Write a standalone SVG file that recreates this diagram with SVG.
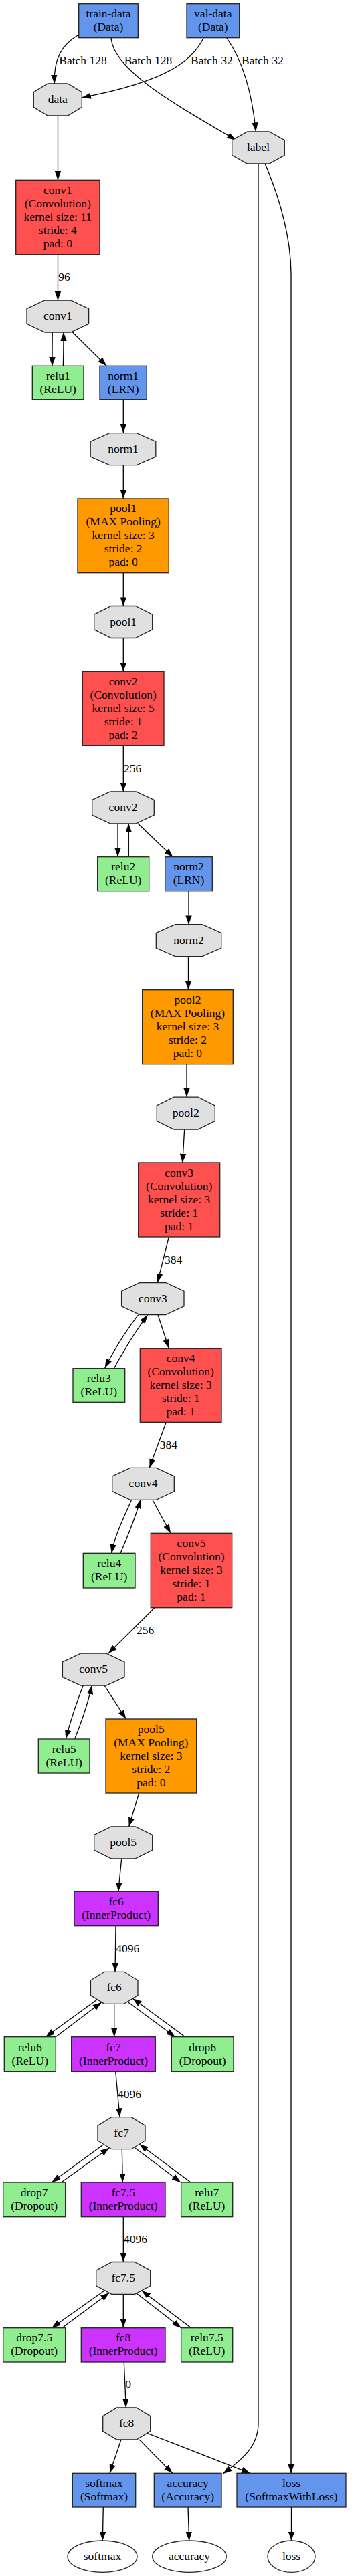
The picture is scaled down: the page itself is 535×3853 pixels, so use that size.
<svg xmlns="http://www.w3.org/2000/svg" width="535" height="3853" viewBox="0 0 535 3853">
<style>
text{font-family:"Liberation Serif","Times New Roman",serif;font-size:17.5px;fill:#000;text-anchor:middle}
text.el{text-anchor:start}
.b{stroke:#222;stroke-width:1.3}
.blue{fill:#6495ED}.red{fill:#FF5050}.orange{fill:#FF9900}.purple{fill:#CC33FF}.green{fill:#90EE90}.blob{fill:#E0E0E0}.out{fill:#fff}
#edges path{fill:none;stroke:#000;stroke-width:1.3;marker-end:url(#ah)}
</style>
<defs>
<marker id="ah" viewBox="0 0 13.3 9.4" refX="13.3" refY="4.7" markerWidth="13.3" markerHeight="9.4" markerUnits="userSpaceOnUse" orient="auto">
<path d="M0,0 L13.3,4.7 L0,9.4 z" fill="#000"/>
</marker>
</defs>
<rect width="535" height="3853" fill="#fff"/>
<g id="edges">
<path d="M117.7,52 C92,67 80,88 81.3,125"/>
<path d="M166,57 C170,105 260,155 352.3,209.3"/>
<path d="M304,57.3 C290,85 260,120 122.7,145.7"/>
<path d="M339,57 C355,80 375,120 382.3,196.7"/>
<path d="M86.5,173.3 L86.5,269.3"/>
<path d="M386,245 L386,3625 C386,3660 360,3680 333.3,3700"/>
<path d="M396,245 C420,300 435,360 435,410 L435,3699.3"/>
<path d="M86.5,380.7 L86.5,449"/>
<path d="M78.3,496.7 C78,515 78,530 78,547.3"/>
<path d="M94.3,547.3 C95,530 95,515 95,496.7"/>
<path d="M108.3,496.7 L159.3,547.3"/>
<path d="M184.3,597.7 L184.3,647.3"/>
<path d="M184.3,696 L184.3,746"/>
<path d="M184.3,856.7 L184.3,906.7"/>
<path d="M184.3,954.3 L184.3,1004.3"/>
<path d="M184.3,1115.3 L184.3,1184"/>
<path d="M176,1231.7 L176,1281.7"/>
<path d="M192.3,1281.7 L192.3,1231.7"/>
<path d="M206,1231.7 L258.3,1281.7"/>
<path d="M282,1332.7 L282,1382.7"/>
<path d="M281.5,1430.7 L281.5,1480.7"/>
<path d="M279,1591.7 L279,1641"/>
<path d="M275.7,1689.3 L272.7,1739"/>
<path d="M252.3,1850 L235.3,1918.3"/>
<path d="M206.7,1966.7 C185,1995 170,2020 156.7,2046"/>
<path d="M170.7,2046 C185,2020 200,1995 220.7,1966.7"/>
<path d="M236,1966.7 L252.3,2016.7"/>
<path d="M248.3,2127.3 L223.3,2195.3"/>
<path d="M196.7,2243 C185,2270 172,2295 166.7,2323.3"/>
<path d="M180,2323.3 C190,2300 202,2270 210,2243"/>
<path d="M227.7,2243 L255,2293.3"/>
<path d="M231,2404.7 L161.7,2473.3"/>
<path d="M124.3,2521 C115,2545 105,2575 98.3,2600.7"/>
<path d="M111.7,2600.7 C122,2575 132,2545 137.3,2521"/>
<path d="M156,2521 L188.3,2571"/>
<path d="M207.7,2682 L192.7,2731.7"/>
<path d="M181.7,2780 L176.7,2829.3"/>
<path d="M173,2880.7 L172,2949.3"/>
<path d="M145,2991 L68.3,3046.7"/>
<path d="M83.3,3046.7 L151.7,2995"/>
<path d="M170.7,2997.3 L170.7,3046.7"/>
<path d="M191.7,2995 L261.7,3046.7"/>
<path d="M276.7,3046.7 L198.3,2989.3"/>
<path d="M172.7,3098.3 L179,3166.7"/>
<path d="M154,3208.3 L77.3,3264"/>
<path d="M91.7,3264 L163.3,3212.7"/>
<path d="M182.3,3214.7 L183.3,3264"/>
<path d="M201.7,3212.7 L270,3264"/>
<path d="M285,3264 L208.3,3207.3"/>
<path d="M184.3,3315.7 L184.3,3383.3"/>
<path d="M155,3426.7 L77.3,3481.7"/>
<path d="M92.7,3481.7 L163.3,3429.3"/>
<path d="M184.3,3431.7 L184.3,3481.7"/>
<path d="M204,3430 L270.7,3481.7"/>
<path d="M285.7,3481.7 L211.7,3426"/>
<path d="M185.3,3533 L188.3,3601"/>
<path d="M181,3649 L164,3699.3"/>
<path d="M208.3,3649 L257.7,3699.3"/>
<path d="M220,3639.3 L374,3699.3"/>
<path d="M154.3,3750 L153.3,3800"/>
<path d="M281,3750 L282.7,3800"/>
<path d="M435.5,3750 L435.5,3800"/>
<text class="el" x="88.3" y="96">Batch 128</text>
<text class="el" x="185.7" y="96">Batch 128</text>
<text class="el" x="285" y="96">Batch 32</text>
<text class="el" x="361" y="96">Batch 32</text>
<text class="el" x="87.3" y="420">96</text>
<text class="el" x="185" y="1155">256</text>
<text class="el" x="246" y="1890">384</text>
<text class="el" x="238.7" y="2166.7">384</text>
<text class="el" x="204" y="2444.3">256</text>
<text class="el" x="173.3" y="2920.3">4096</text>
<text class="el" x="176" y="3137.7">4096</text>
<text class="el" x="185" y="3355">4096</text>
<text class="el" x="187.3" y="3572">0</text>
</g>
<g id="train-data"><rect class="b blue" x="117.7" y="5.7" width="88.6" height="51"/><text x="162" y="26.2">train-data</text><text x="162" y="46.2">(Data)</text></g>
<g id="val-data"><rect class="b blue" x="279" y="5.7" width="78.7" height="51"/><text x="318.3" y="26.2">val-data</text><text x="318.3" y="46.2">(Data)</text></g>
<g id="blob-data"><polygon class="b blob" points="71.4,125 101.2,125 122.3,137.7 122.3,160.3 101.2,173 71.4,173 50.3,160.3 50.3,137.7"/><text x="86.3" y="154">data</text></g>
<g id="blob-label"><polygon class="b blob" points="369.7,197 402.3,197 425.3,209.7 425.3,232.3 402.3,245 369.7,245 346.7,232.3 346.7,209.7"/><text x="386" y="226">label</text></g>
<g id="conv1"><rect class="b red" x="23.7" y="269.3" width="125.3" height="111.4"/><text x="86.3" y="290">conv1</text><text x="86.3" y="310">(Convolution)</text><text x="86.3" y="330">kernel size: 11</text><text x="86.3" y="350">stride: 4</text><text x="86.3" y="370">pad: 0</text></g>
<g id="blob-conv1"><polygon class="b blob" points="67.1,449 105.5,449 132.6,461.7 132.6,484.3 105.5,497 67.1,497 40,484.3 40,461.7"/><text x="86.3" y="478">conv1</text></g>
<g id="relu1"><rect class="b green" x="48.3" y="547.3" width="76.7" height="50.4"/><text x="86.7" y="567.5">relu1</text><text x="86.7" y="587.5">(ReLU)</text></g>
<g id="norm1"><rect class="b blue" x="149" y="547.3" width="70.3" height="50.4"/><text x="184.2" y="567.5">norm1</text><text x="184.2" y="587.5">(LRN)</text></g>
<g id="blob-norm1"><polygon class="b blob" points="163.8,647.7 204.2,647.7 232.8,660.4 232.8,683 204.2,695.7 163.8,695.7 135.2,683 135.2,660.4"/><text x="184" y="676.7">norm1</text></g>
<g id="pool1"><rect class="b orange" x="116" y="746" width="136.3" height="110.7"/><text x="184.2" y="766.3">pool1</text><text x="184.2" y="786.3">(MAX Pooling)</text><text x="184.2" y="806.3">kernel size: 3</text><text x="184.2" y="826.3">stride: 2</text><text x="184.2" y="846.3">pad: 0</text></g>
<g id="blob-pool1"><polygon class="b blob" points="166.2,906.5 202.2,906.5 227.7,919.2 227.7,941.8 202.2,954.5 166.2,954.5 140.7,941.8 140.7,919.2"/><text x="184.2" y="935.5">pool1</text></g>
<g id="conv2"><rect class="b red" x="123.3" y="1004.3" width="121.7" height="111"/><text x="184.2" y="1024.8">conv2</text><text x="184.2" y="1044.8">(Convolution)</text><text x="184.2" y="1064.8">kernel size: 5</text><text x="184.2" y="1084.8">stride: 1</text><text x="184.2" y="1104.8">pad: 2</text></g>
<g id="blob-conv2"><polygon class="b blob" points="164.8,1183.8 203.2,1183.8 230.3,1196.5 230.3,1219.1 203.2,1231.8 164.8,1231.8 137.7,1219.1 137.7,1196.5"/><text x="184" y="1212.8">conv2</text></g>
<g id="relu2"><rect class="b green" x="145.7" y="1281.7" width="77" height="51"/><text x="184.2" y="1302.2">relu2</text><text x="184.2" y="1322.2">(ReLU)</text></g>
<g id="norm2"><rect class="b blue" x="246.7" y="1281.7" width="70.6" height="51"/><text x="282" y="1302.2">norm2</text><text x="282" y="1322.2">(LRN)</text></g>
<g id="blob-norm2"><polygon class="b blob" points="261.8,1382.7 302.2,1382.7 330.7,1395.4 330.7,1418 302.2,1430.7 261.8,1430.7 233.3,1418 233.3,1395.4"/><text x="282" y="1411.7">norm2</text></g>
<g id="pool2"><rect class="b orange" x="212.7" y="1480.7" width="135.6" height="111"/><text x="280.5" y="1501.2">pool2</text><text x="280.5" y="1521.2">(MAX Pooling)</text><text x="280.5" y="1541.2">kernel size: 3</text><text x="280.5" y="1561.2">stride: 2</text><text x="280.5" y="1581.2">pad: 0</text></g>
<g id="blob-pool2"><polygon class="b blob" points="259.8,1641.2 295.8,1641.2 321.3,1653.9 321.3,1676.5 295.8,1689.2 259.8,1689.2 234.3,1676.5 234.3,1653.9"/><text x="277.8" y="1670.2">pool2</text></g>
<g id="conv3"><rect class="b red" x="206.7" y="1739" width="122" height="111"/><text x="267.7" y="1759.5">conv3</text><text x="267.7" y="1779.5">(Convolution)</text><text x="267.7" y="1799.5">kernel size: 3</text><text x="267.7" y="1819.5">stride: 1</text><text x="267.7" y="1839.5">pad: 1</text></g>
<g id="blob-conv3"><polygon class="b blob" points="209,1918.5 247.6,1918.5 275,1931.2 275,1953.8 247.6,1966.5 209,1966.5 181.6,1953.8 181.6,1931.2"/><text x="228.3" y="1947.5">conv3</text></g>
<g id="relu3"><rect class="b green" x="109" y="2046.7" width="77.7" height="50.6"/><text x="147.8" y="2067">relu3</text><text x="147.8" y="2087">(ReLU)</text></g>
<g id="conv4"><rect class="b red" x="209.3" y="2016.7" width="121.7" height="110.6"/><text x="270.2" y="2037">conv4</text><text x="270.2" y="2057">(Convolution)</text><text x="270.2" y="2077">kernel size: 3</text><text x="270.2" y="2097">stride: 1</text><text x="270.2" y="2117">pad: 1</text></g>
<g id="blob-conv4"><polygon class="b blob" points="194.8,2195.3 233.2,2195.3 260.3,2208 260.3,2230.6 233.2,2243.3 194.8,2243.3 167.7,2230.6 167.7,2208"/><text x="214" y="2224.3">conv4</text></g>
<g id="relu4"><rect class="b green" x="124.3" y="2323.3" width="77.7" height="51.7"/><text x="163.2" y="2344.2">relu4</text><text x="163.2" y="2364.2">(ReLU)</text></g>
<g id="conv5"><rect class="b red" x="225.3" y="2293.3" width="121.4" height="111.4"/><text x="286" y="2314">conv5</text><text x="286" y="2334">(Convolution)</text><text x="286" y="2354">kernel size: 3</text><text x="286" y="2374">stride: 1</text><text x="286" y="2394">pad: 1</text></g>
<g id="blob-conv5"><polygon class="b blob" points="120.5,2473.2 158.9,2473.2 186,2485.9 186,2508.5 158.9,2521.2 120.5,2521.2 93.4,2508.5 93.4,2485.9"/><text x="139.7" y="2502.2">conv5</text></g>
<g id="relu5"><rect class="b green" x="57.3" y="2601" width="76.7" height="51"/><text x="95.7" y="2621.5">relu5</text><text x="95.7" y="2641.5">(ReLU)</text></g>
<g id="pool5"><rect class="b orange" x="158" y="2571" width="135.7" height="111"/><text x="225.8" y="2591.5">pool5</text><text x="225.8" y="2611.5">(MAX Pooling)</text><text x="225.8" y="2631.5">kernel size: 3</text><text x="225.8" y="2651.5">stride: 2</text><text x="225.8" y="2671.5">pad: 0</text></g>
<g id="blob-pool5"><polygon class="b blob" points="166.2,2731.8 202.2,2731.8 227.7,2744.5 227.7,2767.1 202.2,2779.8 166.2,2779.8 140.7,2767.1 140.7,2744.5"/><text x="184.2" y="2760.8">pool5</text></g>
<g id="fc6"><rect class="b purple" x="111" y="2829.3" width="125.3" height="51.4"/><text x="173.7" y="2850">fc6</text><text x="173.7" y="2870">(InnerProduct)</text></g>
<g id="blob-fc6"><polygon class="b blob" points="156.1,2949.3 185.3,2949.3 206,2962 206,2984.6 185.3,2997.3 156.1,2997.3 135.4,2984.6 135.4,2962"/><text x="170.7" y="2978.3">fc6</text></g>
<g id="relu6"><rect class="b green" x="6.3" y="3046.7" width="77" height="51.6"/><text x="44.8" y="3067.5">relu6</text><text x="44.8" y="3087.5">(ReLU)</text></g>
<g id="fc7"><rect class="b purple" x="106.7" y="3046.7" width="125.6" height="51.6"/><text x="169.5" y="3067.5">fc7</text><text x="169.5" y="3087.5">(InnerProduct)</text></g>
<g id="drop6"><rect class="b green" x="256.3" y="3046.7" width="92.7" height="51.6"/><text x="302.7" y="3067.5">drop6</text><text x="302.7" y="3087.5">(Dropout)</text></g>
<g id="blob-fc7"><polygon class="b blob" points="166.8,3166.7 196.2,3166.7 217,3179.4 217,3202 196.2,3214.7 166.8,3214.7 146,3202 146,3179.4"/><text x="181.5" y="3195.7">fc7</text></g>
<g id="drop7"><rect class="b green" x="4.7" y="3264" width="93" height="51.7"/><text x="51.2" y="3284.8">drop7</text><text x="51.2" y="3304.8">(Dropout)</text></g>
<g id="fc7.5"><rect class="b purple" x="121.3" y="3264" width="125.7" height="51.7"/><text x="184.2" y="3284.8">fc7.5</text><text x="184.2" y="3304.8">(InnerProduct)</text></g>
<g id="relu7"><rect class="b green" x="270.7" y="3264" width="77" height="51.7"/><text x="309.2" y="3284.8">relu7</text><text x="309.2" y="3304.8">(ReLU)</text></g>
<g id="blob-fc7.5"><polygon class="b blob" points="167.4,3383.5 201,3383.5 224.7,3396.2 224.7,3418.8 201,3431.5 167.4,3431.5 143.7,3418.8 143.7,3396.2"/><text x="184.2" y="3412.5">fc7.5</text></g>
<g id="drop7.5"><rect class="b green" x="4.7" y="3481.7" width="93" height="51.3"/><text x="51.2" y="3502.3">drop7.5</text><text x="51.2" y="3522.3">(Dropout)</text></g>
<g id="fc8"><rect class="b purple" x="121.3" y="3481.7" width="125.7" height="51.3"/><text x="184.2" y="3502.3">fc8</text><text x="184.2" y="3522.3">(InnerProduct)</text></g>
<g id="relu7.5"><rect class="b green" x="270.7" y="3481.7" width="77" height="51.3"/><text x="309.2" y="3502.3">relu7.5</text><text x="309.2" y="3522.3">(ReLU)</text></g>
<g id="blob-fc8"><polygon class="b blob" points="174.5,3601 203.9,3601 224.7,3613.7 224.7,3636.3 203.9,3649 174.5,3649 153.7,3636.3 153.7,3613.7"/><text x="189.2" y="3630">fc8</text></g>
<g id="softmax"><rect class="b blue" x="108.3" y="3699.3" width="94.4" height="50.7"/><text x="155.5" y="3719.7">softmax</text><text x="155.5" y="3739.7">(Softmax)</text></g>
<g id="accuracy"><rect class="b blue" x="230.3" y="3699.3" width="100.7" height="50.7"/><text x="280.7" y="3719.7">accuracy</text><text x="280.7" y="3739.7">(Accuracy)</text></g>
<g id="loss"><rect class="b blue" x="354" y="3699.3" width="163" height="50.7"/><text x="435.5" y="3719.7">loss</text><text x="435.5" y="3739.7">(SoftmaxWithLoss)</text></g>
<g id="out-softmax"><ellipse class="b out" cx="153" cy="3823.7" rx="52" ry="23.7"/><text x="153" y="3828.7">softmax</text></g>
<g id="out-accuracy"><ellipse class="b out" cx="283" cy="3823.7" rx="55.3" ry="23.7"/><text x="283" y="3828.7">accuracy</text></g>
<g id="out-loss"><ellipse class="b out" cx="435.5" cy="3823.7" rx="35.5" ry="23.7"/><text x="435.5" y="3828.7">loss</text></g>
</svg>
